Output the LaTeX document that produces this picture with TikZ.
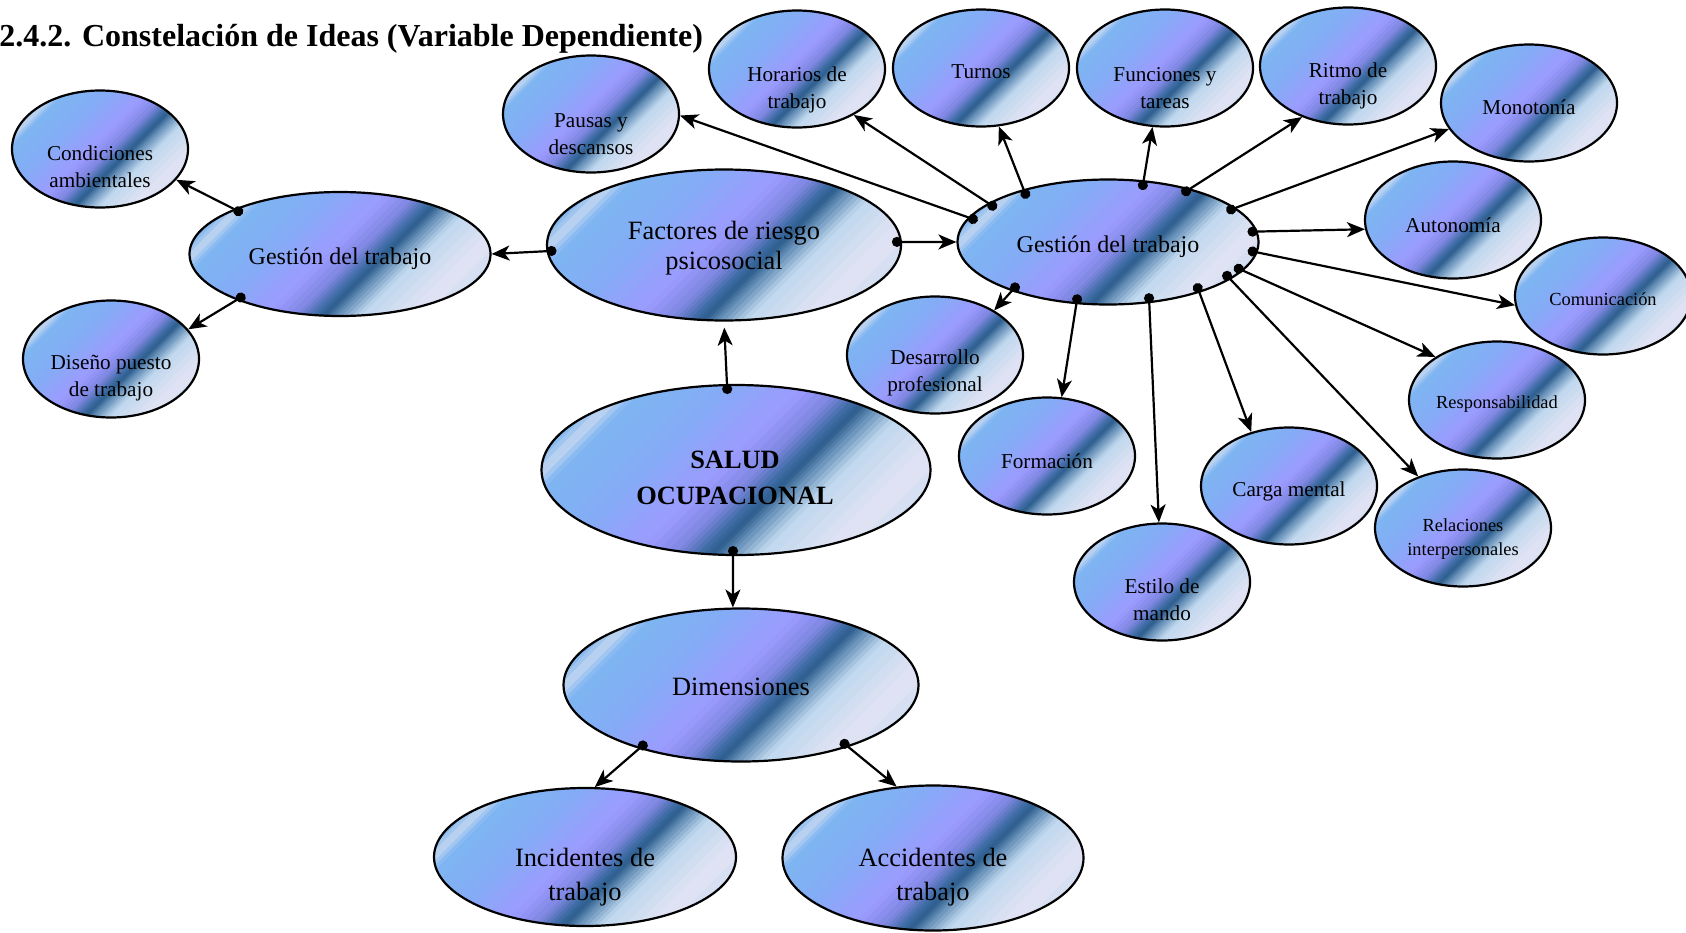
\documentclass[tikz,border=0pt]{standalone}
\usepackage{fontspec}
\setmainfont{Liberation Serif}
\usetikzlibrary{shapes.geometric,arrows.meta,calc}

\definecolor{c0}{HTML}{7DB5F0}
\definecolor{c2}{HTML}{C4D6F0}
\definecolor{c3}{HTML}{7EB5F2}
\definecolor{c4}{HTML}{84ADF5}
\definecolor{c5}{HTML}{9B9BFF}
\definecolor{c6}{HTML}{8088E2}
\definecolor{c7}{HTML}{3A6AA0}
\definecolor{c8}{HTML}{2E5E8E}
\definecolor{c9}{HTML}{6690B8}
\definecolor{c10}{HTML}{C0D8EE}
\definecolor{c11}{HTML}{E2E3F4}
\definecolor{c12}{HTML}{CADDF0}
\definecolor{c13}{HTML}{C0D8EE}

\newdimen\gW \newdimen\gH
\newcommand\gradlist{0/0.12/c0/c0/1, 0.12/0.155/c0/c2/3, 0.155/0.19/c2/c3/3, 0.19/0.32/c3/c4/4, 0.32/0.47/c4/c5/5, 0.47/0.54/c5/c6/4, 0.54/0.59/c6/c7/5, 0.59/0.61/c7/c8/3, 0.61/0.64/c8/c9/4, 0.64/0.695/c9/c10/5, 0.695/0.82/c10/c11/5, 0.82/0.9/c11/c12/3, 0.9/1/c12/c13/2}

\tikzset{gfill/.style={path picture={%
  \pgfextractx{\gW}{\pgfpointdiff{\pgfpointanchor{path picture bounding box}{west}}{\pgfpointanchor{path picture bounding box}{east}}}%
  \pgfextracty{\gH}{\pgfpointdiff{\pgfpointanchor{path picture bounding box}{south}}{\pgfpointanchor{path picture bounding box}{north}}}%
  \pgfmathsetmacro\gL{(\gW+\gH)/2.8284}%
  \begin{scope}[shift={(path picture bounding box.center)},x={(0.7071pt,-0.7071pt)},y={(0.7071pt,0.7071pt)}]
  \foreach \ta/\tb/\ca/\cb/\nn in \gradlist {
    \foreach \k in {1,...,\nn} {
      \pgfmathsetmacro\ua{(2*(\ta+(\tb-\ta)*(\k-1)/\nn)-1)*\gL}
      \pgfmathsetmacro\ub{(2*(\ta+(\tb-\ta)*\k/\nn)-1)*\gL+0.4}
      \pgfmathsetmacro\pc{100*(\k-0.5)/\nn}
      \fill[\cb!\pc!\ca] (\ua,-\gL) -- (\ub,-\gL) -- (\ub,\gL) -- (\ua,\gL) -- cycle;
    }
  }
  \end{scope}
}}}

\begin{document}
\begin{tikzpicture}[x=0.5pt,y=-0.5pt,
  ell/.style={ellipse, draw=black, line width=1.1pt, inner sep=0pt, gfill},
  sm/.style={ell, minimum width=88pt, minimum height=58.5pt},
  conn/.style={line width=1.1pt, {Circle[length=5pt]}-{Stealth[length=9pt,width=7.5pt,inset=2.5pt]}, shorten <=-5pt},
  tsm/.style={align=center, inner sep=0pt, font=\fontsize{10.6}{13.7}\selectfont},
  txs/.style={align=center, inner sep=0pt, font=\fontsize{9.2}{11.8}\selectfont},
  tmid/.style={align=center, inner sep=0pt, font=\fontsize{12}{14}\selectfont},
  tbig/.style={align=center, inner sep=0pt, font=\fontsize{13.2}{17}\selectfont},
]
\useasboundingbox (0,0) rectangle (1686,932);

\node[anchor=west, inner sep=0pt, font=\bfseries\fontsize{16}{19}\selectfont] (title) at (-1,39) {2.4.2. Constelación de Ideas (Variable Dependiente)};

% big ellipses
\node[ell, minimum width=177pt, minimum height=75.5pt] (fac) at (724,245) {};
\node[ell, minimum width=194.5pt, minimum height=85pt] (sal) at (736,470) {};
\node[ell, minimum width=177.5pt, minimum height=76.5pt] (dim) at (741,685) {};
\node[ell, minimum width=151pt, minimum height=69pt] (inc) at (585,857) {};
\node[ell, minimum width=150.5pt, minimum height=72.5pt] (acc) at (933,858) {};
\node[ell, minimum width=150.5pt, minimum height=62pt] (gl) at (340,254) {};
\node[ell, minimum width=150.5pt, minimum height=62.5pt] (gr) at (1108,242) {};

% small ellipses
\node[sm] (cond) at (100,149) {};
\node[sm] (dis) at (111,359) {};
\node[sm] (pau) at (591,114) {};
\node[sm] (hor) at (797,69) {};
\node[sm] (tur) at (981,68) {};
\node[sm] (fun) at (1165,68) {};
\node[sm] (rit) at (1348,66) {};
\node[sm] (mon) at (1529,103) {};
\node[sm] (aut) at (1453,220) {};
\node[sm] (com) at (1603,296) {};
\node[sm] (res) at (1497,400) {};
\node[sm] (rel) at (1463,528) {};
\node[sm] (car) at (1289,486) {};
\node[sm] (est) at (1162,582) {};
\node[sm] (form) at (1047,456) {};
\node[sm] (des) at (935,355) {};

% texts
\node[tsm] (condT) at (100,167) {Condiciones\\ambientales};
\node[tmid] (glT) at (340,259) {Gestión del trabajo};
\node[tsm] (disT) at (111,378) {Diseño puesto\\de trabajo};
\node[tsm] (pauT) at (591,134) {Pausas y\\descansos};
\node[tsm] (horT) at (797,90) {Horarios de\\trabajo};
\node[tsm] (turT) at (981,72) {Turnos};
\node[tsm] (funT) at (1165,88) {Funciones y\\tareas};
\node[tsm] (ritT) at (1348,86) {Ritmo de\\trabajo};
\node[tsm] (monT) at (1529,107) {Monotonía};
\node[tsm] (autT) at (1453,225) {Autonomía};
\node[txs] (comT) at (1603,299) {Comunicación};
\node[txs] (resT) at (1497,404) {Responsabilidad};
\node[txs] (relT) at (1463,539) {Relaciones\\interpersonales};
\node[tsm] (carT) at (1289,491) {Carga mental};
\node[tsm] (estT) at (1162,600) {Estilo de\\mando};
\node[tsm] (formT) at (1047,461) {Formación};
\node[tsm] (desT) at (935,373) {Desarrollo\\profesional};
\node[tmid] (grT) at (1108,247) {Gestión del trabajo};
\node[tbig, font=\fontsize{13.2}{15}\selectfont] (facT) at (724,248) {Factores de riesgo\\psicosocial};
\node[tbig, font=\bfseries\fontsize{13.2}{17.7}\selectfont] (salT) at (735,478) {SALUD\\OCUPACIONAL};
\node[tbig] (dimT) at (741,687) {Dimensiones};
\node[tbig] (incT) at (585,877) {Incidentes de\\trabajo};
\node[tbig] (accT) at (933,877) {Accidentes de\\trabajo};

% connectors
\draw[conn] (fac.182) -- (gl.0);
\draw[conn] (fac.1) -- (gr.180);
\draw[conn, shorten >=3pt] (sal.96) -- (fac.270);
\draw[conn] (sal.268) -- (dim.96);
\draw[conn] (dim.212) -- (inc.82);
\draw[conn] (dim.330) -- (acc.117);
\draw[conn] (gl.157) -- (cond.338);
\draw[conn] (gl.204) -- (dis.21);
\draw[conn] (gr.170) -- (pau.359);
\draw[conn] (gr.162) -- (hor.321);
\draw[conn] (gr.148) -- (tur.287);
\draw[conn] (gr.60) -- (fun.258);
\draw[conn] (gr.33) -- (rit.228);
\draw[conn] (gr.15) -- (mon.198);
\draw[conn] (gr.4) -- (aut.186);
\draw[conn] (gr.356) -- (com.186);
\draw[conn] (gr.348) -- (res.145);
\draw[conn] (gr.343) -- (rel.131);
\draw[conn] (gr.331) -- (car.125);
\draw[conn] (gr.304) -- (est.93);
\draw[conn] (gr.243) -- (form.76);
\draw[conn] (gr.207) -- (des.37);
\end{tikzpicture}
\end{document}
